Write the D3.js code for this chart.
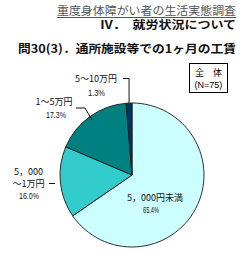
<!DOCTYPE html>
<html><head><meta charset="utf-8">
<script src="https://cdn.jsdelivr.net/npm/d3@7"></script>
<style>body{margin:0;background:#fff}svg{display:block}</style>
</head><body>
<script>
const categories = ["5，000円未満", "5，000～1万円", "1～5万円", "5～10万円"];
const values = [65.4, 16.0, 17.3, 1.3];
const valueLabels = ["65.4%", "16.0%", "17.3%", "1.3%"];
const colors = ["#CCFFFF", "#33CCCC", "#008080", "#003366"];
const titleLines = ["重度身体障がい者の生活実態調査", "Ⅳ．　就労状況について", "問30(3)．通所施設等での1ヶ月の工賃"];
const boxLines = ["全　体", "(N=75)"];

const W = 243, H = 254;
const svg = d3.select("body").append("svg").attr("width", W).attr("height", H);
const jp = "'Noto Sans CJK JP', sans-serif";

// titles
svg.append("text").attr("x", 236).attr("y", 14.5).attr("text-anchor", "end")
  .attr("font-family", jp).attr("font-size", 11).attr("fill", "#555")
  .attr("textLength", 179).attr("lengthAdjust", "spacingAndGlyphs")
  .text(titleLines[0]);
svg.append("line").attr("x1", 57).attr("x2", 236).attr("y1", 17.5).attr("y2", 17.5)
  .attr("stroke", "#555").attr("stroke-width", 1);
svg.append("text").attr("x", 236).attr("y", 29).attr("text-anchor", "end")
  .attr("font-family", jp).attr("font-size", 11).attr("font-weight", "bold").attr("fill", "#111")
  .attr("textLength", 136).attr("lengthAdjust", "spacingAndGlyphs")
  .text(titleLines[1]);
svg.append("text").attr("x", 236).attr("y", 53).attr("text-anchor", "end")
  .attr("font-family", jp).attr("font-size", 11.5).attr("font-weight", "bold").attr("fill", "#111")
  .attr("textLength", 218).attr("lengthAdjust", "spacingAndGlyphs")
  .text(titleLines[2]);

// legend box
svg.append("rect").attr("x", 189.5).attr("y", 63.5).attr("width", 38).attr("height", 29)
  .attr("fill", "#fff").attr("stroke", "#000").attr("stroke-width", 1);
svg.append("text").attr("x", 208.5).attr("y", 76).attr("text-anchor", "middle")
  .attr("font-family", jp).attr("font-size", 9).attr("fill", "#000").text(boxLines[0]);
svg.append("text").attr("x", 208.5).attr("y", 88).attr("text-anchor", "middle")
  .attr("font-family", "'Liberation Sans', Arial, sans-serif").attr("font-size", 9).attr("fill", "#000").text(boxLines[1]);

// pie
const cx = 132, cy = 175, r = 72;
const pie = d3.pie().sort(null).value(d => d)(values);
const arc = d3.arc().innerRadius(0).outerRadius(r);
const g = svg.append("g").attr("transform", `translate(${cx},${cy})`);
g.selectAll("path").data(pie).join("path")
  .attr("d", arc).attr("fill", (d, i) => colors[i])
  .attr("stroke", "#1a1a1a").attr("stroke-width", 0.9);

// labels
function catText(x, y, t, anchor) {
  svg.append("text").attr("x", x).attr("y", y).attr("text-anchor", anchor || "middle")
    .attr("font-family", jp).attr("font-size", 9).attr("fill", "#111").text(t);
}
function pctText(x, y, t, len) {
  svg.append("text").attr("x", x).attr("y", y).attr("text-anchor", "middle")
    .attr("font-family", "'Liberation Sans', Arial, sans-serif").attr("font-size", 9.5).attr("fill", "#111")
    .attr("textLength", len).attr("lengthAdjust", "spacingAndGlyphs").text(t);
}
// slice 0
catText(155, 201, categories[0]);
pctText(151, 213, valueLabels[0], 16);
// slice 1 (two lines)
const c1 = categories[1].split("～");
catText(28.5, 175, c1[0]);
catText(28.5, 187, "～" + c1[1]);
pctText(29, 199, valueLabels[1], 20);
// slice 2
catText(54, 105, categories[2]);
pctText(56, 118, valueLabels[2], 20);
// slice 3
catText(96, 82, categories[3]);
pctText(96.5, 96, valueLabels[3], 17);

// leader lines
const ln = (pts) => svg.append("path").attr("d", d3.line()(pts))
  .attr("fill", "none").attr("stroke", "#111").attr("stroke-width", 1);
const a3 = (pie[3].startAngle + pie[3].endAngle) / 2;
const rim3 = [cx + r * Math.sin(a3), cy - r * Math.cos(a3)];
ln([[123, 78.5], [rim3[0], 78.5], rim3]);
ln([[76, 108], [85, 108], [92, 120]]);
ln([[49, 183.5], [55, 183.5]]);
</script>
</body></html>
